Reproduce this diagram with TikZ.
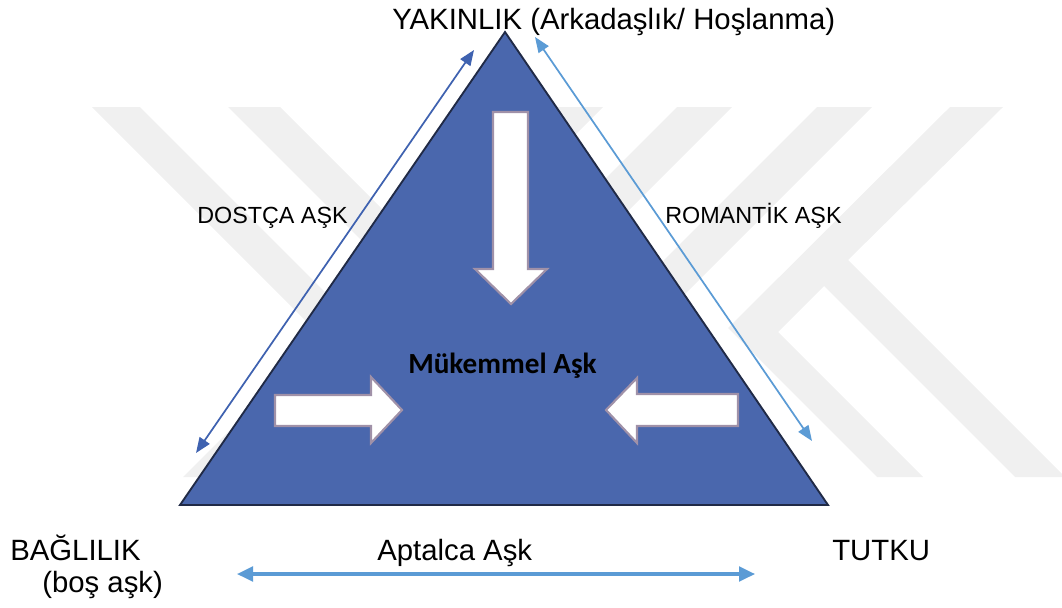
\documentclass[tikz,border=0pt]{standalone}
\usepackage{fontspec}
\setmainfont{Liberation Sans}
\newfontfamily\calibrifont{Carlito}
\usetikzlibrary{arrows.meta}
\definecolor{wm}{RGB}{240,240,240}
\definecolor{trifill}{RGB}{74,103,173}
\definecolor{triedge}{RGB}{32,42,70}
\definecolor{darkarrow}{RGB}{63,98,176}
\definecolor{lightarrow}{RGB}{91,155,213}
\definecolor{blockedge}{RGB}{160,145,168}
\begin{document}
\begin{tikzpicture}[x=0.75pt,y=-0.75pt,
  wmband/.style={fill=wm,draw=none},
  tri/.style={fill=trifill,draw=triedge,line width=1.4pt,line join=miter},
  blockarrow/.style={fill=white,draw=blockedge,line width=1.6pt,line join=miter},
  txt/.style={inner sep=0,anchor=base west,font=\fontsize{22}{26}\selectfont},
  sidetxt/.style={inner sep=0,anchor=base west,font=\fontsize{17.5}{21}\selectfont},
  boldtxt/.style={inner sep=0,anchor=base west,font=\fontsize{21.9}{26}\selectfont\calibrifont\bfseries},
  darkdbl/.style={draw=darkarrow,line width=1.3pt,{Triangle[length=11.5pt,width=9pt]}-{Triangle[length=11.5pt,width=9pt]}},
  lightdbl/.style={draw=lightarrow,line width=1.3pt,{Triangle[length=11.5pt,width=9pt]}-{Triangle[length=11.5pt,width=9pt]}},
  bottomdbl/.style={draw=lightarrow,line width=2.3pt,{Triangle[length=12pt,width=11pt]}-{Triangle[length=12pt,width=11pt]}}
]
\useasboundingbox (0,0) rectangle (1062,607);
% watermark
\begin{scope}
\clip (0,107) rectangle (1062,477);
\fill[wmband] (92,107) -- (140,107) -- (510,477) -- (462,477) -- cycle;
\fill[wmband] (228,107) -- (280,107) -- (650,477) -- (598,477) -- cycle;
\fill[wmband] (553,107) -- (603,107) -- (233,477) -- (183,477) -- cycle;
\fill[wmband] (677,107) -- (732,107) -- (362,477) -- (307,477) -- cycle;
\fill[wmband] (817,107) -- (872,107) -- (502,477) -- (447,477) -- cycle;
\fill[wmband] (950,107) -- (1003,107) -- (848,260) -- (1065,477) -- (1015,477) -- (824,286) -- (778,332) -- (923,477) -- (877,477) -- (728,328) -- cycle;
\end{scope}
% triangle
\coordinate (apex) at (505,32);
\coordinate (bl) at (180,505);
\coordinate (br) at (828,505);
\draw[tri] (apex) -- (bl) -- (br) -- cycle;
% block arrows
\draw[blockarrow] (493,112) -- (528,112) -- (528,269) -- (547,269) -- (511,304) -- (475,269) -- (493,269) -- cycle;
\draw[blockarrow] (275,395) -- (371,395) -- (371,377) -- (402,410) -- (371,443) -- (371,426) -- (275,426) -- cycle;
\draw[blockarrow] (738,394) -- (637,394) -- (637,378) -- (606,410) -- (637,443) -- (637,426) -- (738,426) -- cycle;
% side arrows
\coordinate (dA) at (474,50);
\coordinate (dB) at (196,453);
\coordinate (rA) at (535,37);
\coordinate (rB) at (812,441);
\coordinate (bA) at (237,574);
\coordinate (bB) at (755,574);
\draw[darkdbl] (dB) -- (dA);
\draw[lightdbl] (rB) -- (rA);
\draw[bottomdbl] (bA) -- (bB);
% texts
\node[txt] (yak) at (392,29) {YAKINLIK (Arkadaşlık/ Hoşlanma)};
\node[sidetxt] (dost) at (197,223) {DOSTÇA AŞK};
\node[sidetxt] (rom) at (665,223) {ROMANTİK AŞK};
\node[boldtxt] (muk) at (408,373) {Mükemmel Aşk};
\node[txt] (bag) at (10,560) {BAĞLILIK};
\node[txt] (bos) at (42,592) {(boş aşk)};
\node[txt] (apt) at (377,560) {Aptalca Aşk};
\node[txt] (tut) at (832,560) {TUTKU};
\end{tikzpicture}
\end{document}
